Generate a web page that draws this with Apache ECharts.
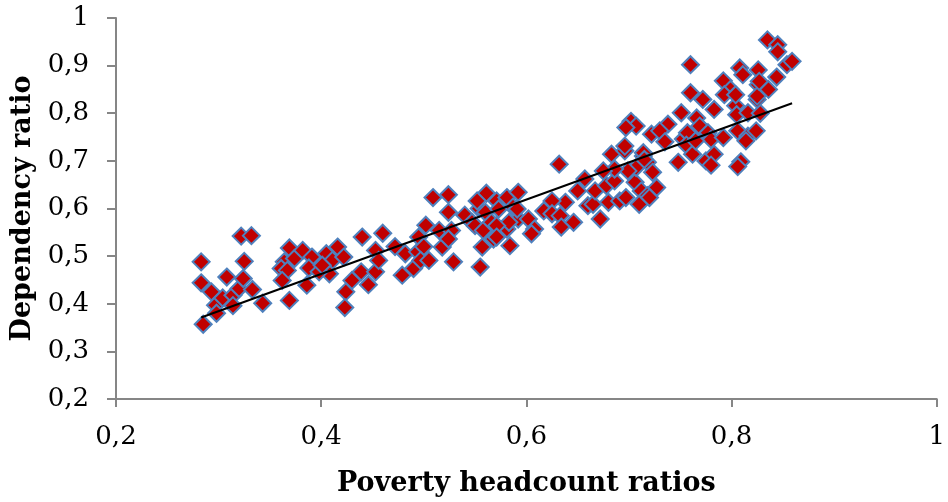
<!DOCTYPE html>
<html>
<head>
<meta charset="utf-8">
<script src="https://cdn.jsdelivr.net/npm/echarts@6/dist/echarts.min.js"></script>
<style>
  html, body { margin: 0; padding: 0; background: #ffffff; }
  #chart { width: 948px; height: 502px; }
</style>
</head>
<body>
<div id="chart"></div>
<script>
// Poverty headcount ratio (x) and dependency ratio (y), one entry per observation
const povertyRatio = [
  0.283, 0.283, 0.285, 0.293, 0.297, 0.298, 0.304, 0.308, 0.314, 0.314,
  0.320, 0.324, 0.322, 0.332, 0.325, 0.333, 0.343, 0.369, 0.369, 0.364,
  0.361, 0.367, 0.374, 0.382, 0.391, 0.388, 0.362, 0.386, 0.405, 0.411,
  0.416, 0.422, 0.408, 0.398, 0.401, 0.424, 0.423, 0.430, 0.439, 0.440,
  0.446, 0.453, 0.453, 0.456, 0.460, 0.472, 0.482, 0.479, 0.490, 0.494,
  0.495, 0.500, 0.502, 0.497, 0.505, 0.509, 0.524, 0.524, 0.515, 0.527,
  0.518, 0.524, 0.529, 0.540, 0.554, 0.561, 0.560, 0.552, 0.547, 0.550,
  0.555, 0.557, 0.558, 0.568, 0.566, 0.571, 0.573, 0.581, 0.581, 0.587,
  0.592, 0.592, 0.591, 0.602, 0.608, 0.583, 0.571, 0.571, 0.605, 0.584,
  0.632, 0.683, 0.696, 0.714, 0.657, 0.650, 0.638, 0.625, 0.617, 0.625,
  0.633, 0.634, 0.646, 0.660, 0.665, 0.667, 0.678, 0.686, 0.680, 0.672,
  0.691, 0.701, 0.706, 0.712, 0.718, 0.710, 0.697, 0.760, 0.772, 0.751,
  0.766, 0.738, 0.702, 0.707, 0.697, 0.722, 0.730, 0.753, 0.757, 0.772,
  0.696, 0.735, 0.756, 0.762, 0.748, 0.714, 0.718, 0.707, 0.723, 0.699,
  0.686, 0.675, 0.775, 0.783, 0.804, 0.805, 0.816, 0.828, 0.825, 0.769,
  0.777, 0.780, 0.792, 0.806, 0.816, 0.824, 0.765, 0.783, 0.780, 0.809,
  0.806, 0.814, 0.727, 0.720, 0.715, 0.835, 0.845, 0.845, 0.854, 0.859,
  0.760, 0.808, 0.826, 0.844, 0.792, 0.826, 0.836, 0.799, 0.793, 0.804,
  0.825, 0.811, 0.827
];
const dependencyRatio = [
  0.488, 0.444, 0.357, 0.425, 0.397, 0.380, 0.412, 0.456, 0.418, 0.396,
  0.432, 0.453, 0.542, 0.543, 0.489, 0.430, 0.401, 0.407, 0.517, 0.488,
  0.474, 0.470, 0.495, 0.512, 0.498, 0.475, 0.449, 0.439, 0.505, 0.491,
  0.519, 0.498, 0.463, 0.467, 0.481, 0.425, 0.392, 0.449, 0.467, 0.540,
  0.440, 0.467, 0.512, 0.491, 0.548, 0.520, 0.505, 0.460, 0.474, 0.509,
  0.540, 0.520, 0.565, 0.491, 0.491, 0.623, 0.629, 0.592, 0.554, 0.554,
  0.519, 0.536, 0.488, 0.586, 0.600, 0.632, 0.592, 0.616, 0.571, 0.564,
  0.477, 0.519, 0.554, 0.536, 0.571, 0.616, 0.599, 0.623, 0.557, 0.603,
  0.634, 0.578, 0.599, 0.578, 0.557, 0.571, 0.564, 0.540, 0.547, 0.522,
  0.693, 0.714, 0.721, 0.710, 0.662, 0.637, 0.613, 0.616, 0.595, 0.589,
  0.585, 0.561, 0.571, 0.606, 0.609, 0.637, 0.648, 0.658, 0.613, 0.578,
  0.616, 0.676, 0.655, 0.637, 0.627, 0.609, 0.623, 0.843, 0.829, 0.801,
  0.790, 0.777, 0.783, 0.773, 0.770, 0.756, 0.763, 0.746, 0.759, 0.766,
  0.731, 0.740, 0.733, 0.714, 0.697, 0.717, 0.697, 0.686, 0.676, 0.679,
  0.683, 0.679, 0.700, 0.808, 0.816, 0.797, 0.801, 0.800, 0.829, 0.773,
  0.759, 0.745, 0.749, 0.763, 0.752, 0.763, 0.742, 0.714, 0.691, 0.698,
  0.688, 0.742, 0.644, 0.623, 0.703, 0.954, 0.944, 0.929, 0.902, 0.909,
  0.902, 0.895, 0.891, 0.876, 0.868, 0.860, 0.850, 0.850, 0.839, 0.839,
  0.836, 0.881, 0.867
];

// Fitted linear trend: dependency = slope * poverty + intercept
const trendSlope = 0.781;
const trendIntercept = 0.150;

// Axis tick values
const xTickValues = [0.2, 0.4, 0.6, 0.8, 1];
const yTickValues = [0.2, 0.3, 0.4, 0.5, 0.6, 0.7, 0.8, 0.9, 1];

const xAxisTitle = 'Poverty headcount ratios';
const yAxisTitle = 'Dependency ratio';

const points = povertyRatio.map((x, i) => [x, dependencyRatio[i]]);
const xMin = Math.min(...povertyRatio);
const xMax = Math.max(...povertyRatio);
const trendPoints = [xMin, xMax].map(x => [x, trendSlope * x + trendIntercept]);

// Decimal comma labels; whole numbers stay bare
const fmt = v => {
  const r = Math.round(v * 10) / 10;
  return Number.isInteger(r) ? String(r) : r.toFixed(1).replace('.', ',');
};

const serif = 'DejaVu Serif';
const axisGray = '#868686';

const chart = echarts.init(document.getElementById('chart'), null, { renderer: 'canvas' });
chart.setOption({
  animation: false,
  backgroundColor: '#ffffff',
  grid: { left: 116, right: 8, top: 18, bottom: 101, containLabel: false },
  xAxis: {
    type: 'value',
    min: xTickValues[0],
    max: xTickValues[xTickValues.length - 1],
    interval: xTickValues[1] - xTickValues[0],
    name: xAxisTitle,
    nameLocation: 'middle',
    nameGap: 71,
    nameTextStyle: { fontFamily: serif, fontWeight: 'bold', fontSize: 27, color: '#000' },
    axisLine: { show: true, lineStyle: { color: axisGray, width: 2 } },
    axisTick: { show: true, length: 8, lineStyle: { color: axisGray, width: 2 } },
    axisLabel: { formatter: fmt, fontFamily: serif, fontSize: 26, color: '#000', margin: 25 },
    splitLine: { show: false }
  },
  yAxis: {
    type: 'value',
    min: yTickValues[0],
    max: yTickValues[yTickValues.length - 1],
    interval: 0.1,
    name: yAxisTitle,
    nameLocation: 'middle',
    nameGap: 74,
    nameRotate: 90,
    nameTextStyle: { fontFamily: serif, fontWeight: 'bold', fontSize: 27, color: '#000' },
    axisLine: { show: true, lineStyle: { color: axisGray, width: 2 } },
    axisTick: { show: true, length: 9, lineStyle: { color: axisGray, width: 2 } },
    axisLabel: { formatter: fmt, fontFamily: serif, fontSize: 26, color: '#000', margin: 27 },
    splitLine: { show: false }
  },
  series: [
    {
      type: 'scatter',
      data: points,
      symbol: 'diamond',
      symbolSize: 17,
      itemStyle: { color: '#C00000', borderColor: '#4F81BD', borderWidth: 2, opacity: 1 },
      z: 2
    },
    {
      type: 'line',
      data: trendPoints,
      showSymbol: false,
      symbol: 'none',
      lineStyle: { color: '#000000', width: 2 },
      z: 3
    }
  ]
});
</script>
</body>
</html>
